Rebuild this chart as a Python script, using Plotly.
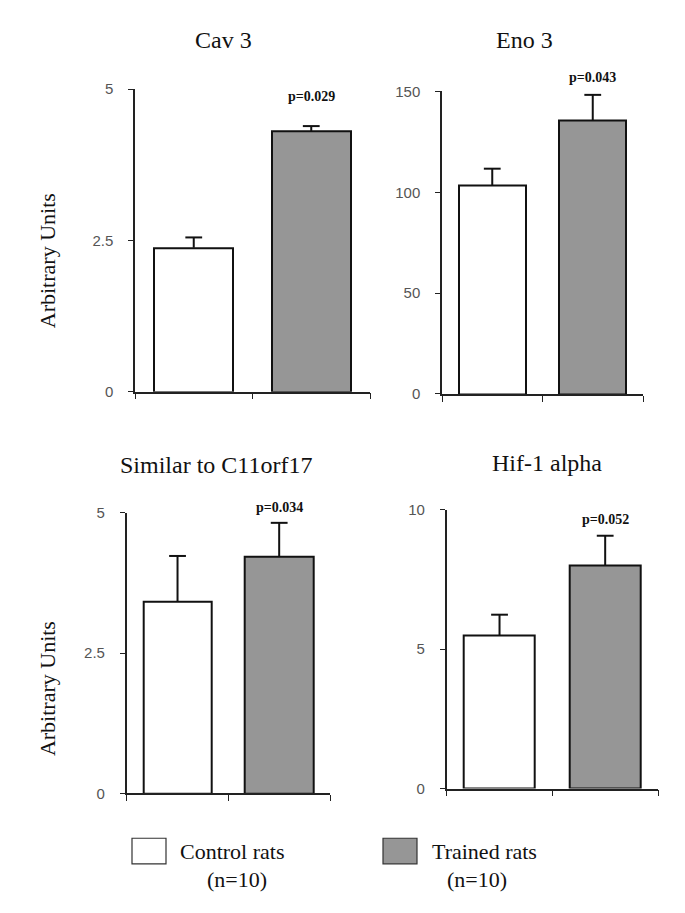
import plotly.graph_objects as go

# ---- data ----
genes = ["Cav 3", "Eno 3", "Similar to C11orf17", "Hif-1 alpha"]
groups = ["Control rats", "Trained rats"]
control_means = [2.38, 103.3, 3.41, 5.49]
control_err = [0.17, 8.4, 0.82, 0.74]
trained_means = [4.30, 135.7, 4.21, 8.01]
trained_err = [0.09, 12.6, 0.61, 1.05]
p_values = ["p=0.029", "p=0.043", "p=0.034", "p=0.052"]
y_max = [5, 150, 5, 10]
y_ticks = [[0, 2.5, 5], [0, 50, 100, 150], [0, 2.5, 5], [0, 5, 10]]
y_ticktext = [["0", "2.5", "5"], ["0", "50", "100", "150"], ["0", "2.5", "5"], ["0", "5", "10"]]
group_colors = ["#ffffff", "#969696"]

W, H = 685, 913
SERIF = "Liberation Serif"
SANS = "Liberation Sans"

def px(x):
    return x / W

def py(y):
    return 1 - y / H

# panel geometry in pixels: (x0, x1, ytop, ybottom)
panels = [
    (135, 370, 81.7, 390),
    (442, 643, 84, 392.3),
    (126.7, 330, 513.3, 799.3),
    (446.7, 658, 510, 794.3),
]
title_pos = [(223, 32), (524, 32), (216, 465), (547, 463)]
p_y = [89, 70, 508, 520]

fig = go.Figure()
annotations = []
shapes = []

for i in range(4):
    xa = "x" if i == 0 else f"x{i+1}"
    ya = "y" if i == 0 else f"y{i+1}"
    means = [control_means[i], trained_means[i]]
    errs = [control_err[i], trained_err[i]]
    fig.add_trace(go.Bar(
        x=[0, 1], y=means, width=0.67,
        marker=dict(color=group_colors, line=dict(color="#111111", width=2)),
        error_y=dict(type="data", symmetric=False, array=errs, arrayminus=[0, 0],
                     color="#111111", thickness=2, width=0),
        xaxis=xa, yaxis=ya, showlegend=False, hoverinfo="skip",
    ))
    # caps at the top of the error bars
    fig.add_trace(go.Scatter(
        x=[0, 1], y=[m + e for m, e in zip(means, errs)], mode="markers",
        marker=dict(symbol="line-ew", size=12, line=dict(color="#111111", width=2)),
        xaxis=xa, yaxis=ya, showlegend=False, hoverinfo="skip", cliponaxis=False,
    ))
    x0, x1, yt, yb = panels[i]
    key = "" if i == 0 else str(i + 1)
    fig.layout["xaxis" + key] = dict(
        domain=[px(x0), px(x1)], anchor=ya, range=[-0.5, 1.5],
        tickvals=[-0.5, 0.5, 1.5], showticklabels=False, ticks="outside",
        ticklen=6, tickcolor="#222222", showline=True, linecolor="#222222",
        linewidth=1.5, showgrid=False, zeroline=False, fixedrange=True,
    )
    fig.layout["yaxis" + key] = dict(
        domain=[py(yb), py(yt)], anchor=xa, range=[0, y_max[i]],
        tickvals=y_ticks[i], ticktext=y_ticktext[i], ticks="outside",
        ticklen=5, tickcolor="#222222", showline=True, linecolor="#222222",
        linewidth=1.5, showgrid=False, zeroline=False,
        tickfont=dict(family=SANS, size=15, color="#555555"),
        ticklabelstandoff=12, fixedrange=True,
    )
    tx, ty = title_pos[i]
    annotations.append(dict(text=genes[i], x=px(tx), y=py(ty), xref="paper", yref="paper",
                            showarrow=False, xanchor="center", yanchor="middle",
                            font=dict(family=SERIF, size=24, color="#111111")))
    annotations.append(dict(text="<b>" + p_values[i] + "</b>", x=1, y=py(p_y[i]), xref=xa,
                            yref="paper", showarrow=False, xanchor="center", yanchor="middle",
                            font=dict(family=SERIF, size=14, color="#111111")))

# y axis titles
for cy in (257, 693):
    annotations.append(dict(text="Arbitrary Units", x=px(47), y=py(cy), xref="paper", yref="paper",
                            showarrow=False, textangle=-90, xanchor="center", yanchor="middle",
                            font=dict(family=SERIF, size=22, color="#111111")))

# legend (drawn)
legend_items = [(132, 166, groups[0], group_colors[0], 178, 237),
                (383, 417, groups[1], group_colors[1], 430, 477)]
for bx0, bx1, label, col, tx, nx in legend_items:
    shapes.append(dict(type="rect", xref="paper", yref="paper", x0=px(bx0), x1=px(bx1),
                       y0=py(871), y1=py(845), fillcolor=col,
                       line=dict(color="#333333", width=1.2)))
    annotations.append(dict(text=label, x=px(tx), y=py(858), xref="paper", yref="paper",
                            showarrow=False, xanchor="left", yanchor="middle",
                            font=dict(family=SERIF, size=22, color="#111111")))
    annotations.append(dict(text="(n=10)", x=px(nx), y=py(887), xref="paper", yref="paper",
                            showarrow=False, xanchor="center", yanchor="middle",
                            font=dict(family=SERIF, size=22, color="#111111")))

fig.update_layout(
    width=W, height=H, margin=dict(l=0, r=0, t=0, b=0),
    paper_bgcolor="white", plot_bgcolor="white",
    annotations=annotations, shapes=shapes, bargap=0,
)

fig.write_html("out.html", config={"displayModeBar": False},
               post_script="document.body.style.margin='0px';document.body.style.padding='0px';")
